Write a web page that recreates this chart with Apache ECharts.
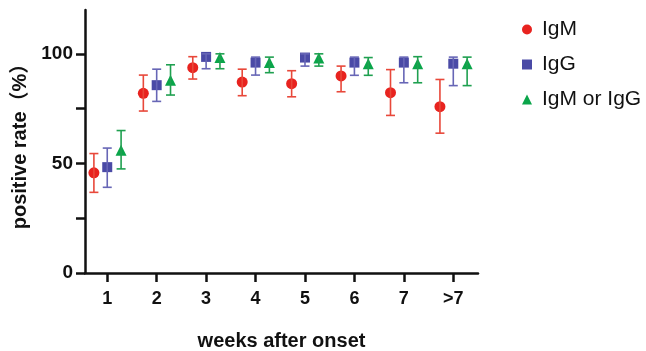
<!DOCTYPE html>
<html>
<head>
<meta charset="utf-8">
<script src="https://cdn.jsdelivr.net/npm/echarts@6/dist/echarts.min.js"></script>
<style>
  html, body { margin: 0; padding: 0; background: #fff; }
  #chart { width: 646px; height: 351px; }
</style>
</head>
<body>
<div id="chart"></div>
<script>
// weeks after onset
var weeks = ["1", "2", "3", "4", "5", "6", "7", ">7"];

// positive rate (%) with 95% CI
var igm = [45.7, 82.0, 93.7, 87.1, 86.4, 89.9, 82.3, 75.9];
var igmLow = [36.8, 73.9, 88.5, 80.9, 80.4, 82.7, 71.9, 63.8];
var igmHigh = [54.5, 90.3, 98.7, 93.0, 92.3, 94.4, 92.8, 88.3];

var igg = [48.3, 85.7, 98.6, 96.0, 98.3, 96.0, 96.0, 95.5];
var iggLow = [39.1, 78.3, 93.2, 90.3, 94.4, 90.2, 86.8, 85.5];
var iggHigh = [57.0, 93.0, 100, 98.5, 100, 98.5, 98.5, 98.5];

var either = [56.0, 87.9, 98.3, 96.0, 98.1, 95.5, 95.5, 95.5];
var eitherLow = [47.5, 81.2, 93.2, 91.4, 94.4, 90.2, 86.8, 85.5];
var eitherHigh = [65.0, 95.0, 100, 98.5, 100, 98.3, 98.7, 98.5];

var yTicks = [0, 25, 50, 75, 100];
var yLabels = [0, 50, 100];

var chartDom = document.getElementById("chart");
var myChart = echarts.init(chartDom);

var font = "Arial, 'Liberation Sans', 'Noto Sans CJK SC', sans-serif";

function points(vals, shift) {
  return vals.map(function (v, i) { return [i + 1 + shift, v]; });
}
function bars(lo, hi, shift) {
  return lo.map(function (l, i) { return [i + 1 + shift, l, hi[i]]; });
}

function errorBar(color) {
  return function (params, api) {
    var x = api.value(0);
    var lo = api.coord([x, api.value(1)]);
    var hi = api.coord([x, api.value(2)]);
    var cap = 4.5;
    var style = { stroke: color, lineWidth: 1.6 };
    return {
      type: "group",
      children: [
        { type: "line", shape: { x1: lo[0], y1: lo[1], x2: hi[0], y2: hi[1] }, style: style },
        { type: "line", shape: { x1: lo[0] - cap, y1: lo[1], x2: lo[0] + cap, y2: lo[1] }, style: style },
        { type: "line", shape: { x1: hi[0] - cap, y1: hi[1], x2: hi[0] + cap, y2: hi[1] }, style: style }
      ]
    };
  };
}

var shiftM = -0.27, shiftG = 0, shiftE = 0.28;

var option = {
  animation: false,
  grid: { left: 85, right: 168, top: 10, bottom: 78, outerBoundsMode: "none" },
  legend: {
    orient: "vertical",
    left: 517,
    top: 14,
    itemGap: 14,
    itemWidth: 10,
    itemHeight: 10,
    textStyle: { fontSize: 21, fontFamily: font, color: "#111", padding: [0, 0, 0, 5] },
    data: [
      { name: "IgM", icon: "circle" },
      { name: "IgG", icon: "rect" },
      { name: "IgM or IgG", icon: "triangle" }
    ]
  },
  xAxis: {
    type: "value",
    min: 0.55,
    max: 8.5,
    name: "weeks after onset",
    nameLocation: "middle",
    nameGap: 58,
    nameTextStyle: { fontSize: 20, fontWeight: "bold", fontFamily: font, color: "#111" },
    splitLine: { show: false },
    axisLine: { lineStyle: { color: "#111", width: 2.5 } },
    axisTick: { length: 9, lineStyle: { color: "#111", width: 2.5 }, customValues: [1, 2, 3, 4, 5, 6, 7, 8] },
    axisLabel: {
      customValues: [1, 2, 3, 4, 5, 6, 7, 8],
      margin: 17,
      fontSize: 18,
      fontWeight: "bold",
      fontFamily: font,
      color: "#111",
      formatter: function (v) { return weeks[Math.round(v) - 1]; }
    }
  },
  yAxis: {
    type: "value",
    min: 0,
    max: 120,
    name: "positive rate（%）",
    nameLocation: "middle",
    nameGap: 55,
    nameTextStyle: { fontSize: 20, fontWeight: "bold", fontFamily: font, color: "#111" },
    splitLine: { show: false },
    axisLine: { show: true, lineStyle: { color: "#111", width: 2.5 } },
    axisTick: { show: true, length: 9, lineStyle: { color: "#111", width: 2.5 }, customValues: yTicks },
    axisLabel: {
      customValues: yLabels,
      margin: 12,
      fontSize: 19,
      fontWeight: "bold",
      fontFamily: font,
      color: "#111"
    }
  },
  series: [
    {
      name: "IgM",
      type: "scatter",
      symbol: "circle",
      symbolSize: 11,
      itemStyle: { color: "#e8231f", opacity: 1 },
      data: points(igm, shiftM),
      z: 2
    },
    {
      name: "IgG",
      type: "scatter",
      symbol: "rect",
      symbolSize: 10,
      itemStyle: { color: "#4a4aa6", opacity: 1 },
      data: points(igg, shiftG),
      z: 2
    },
    {
      name: "IgM or IgG",
      type: "scatter",
      symbol: "triangle",
      symbolSize: 11,
      itemStyle: { color: "#0aa54a", opacity: 1 },
      data: points(either, shiftE),
      z: 2
    },
    {
      name: "IgM err",
      type: "custom",
      renderItem: errorBar("#e8483a"),
      data: bars(igmLow, igmHigh, shiftM),
      z: 3
    },
    {
      name: "IgG err",
      type: "custom",
      renderItem: errorBar("#6766b6"),
      data: bars(iggLow, iggHigh, shiftG),
      z: 3
    },
    {
      name: "IgM or IgG err",
      type: "custom",
      renderItem: errorBar("#1fa050"),
      data: bars(eitherLow, eitherHigh, shiftE),
      z: 3
    }
  ]
};

myChart.setOption(option);
window.addEventListener("resize", myChart.resize);
</script>
</body>
</html>
